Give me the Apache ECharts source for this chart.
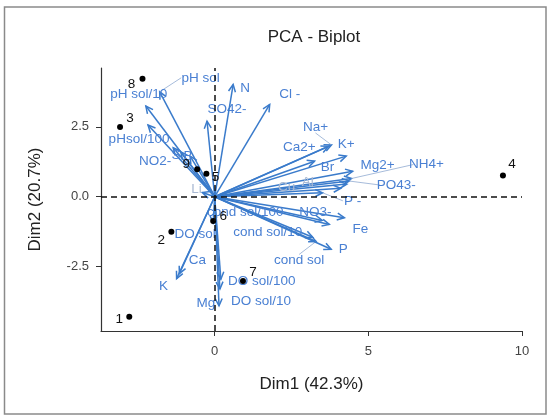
<!DOCTYPE html>
<html lang="en">
<head>
<meta charset="utf-8">
<title>PCA - Biplot</title>
<script src="https://cdn.jsdelivr.net/npm/echarts@6/dist/echarts.min.js"></script>
<style>
  html, body { margin: 0; padding: 0; background: #fff; }
  #chart { width: 550px; height: 417px; }
</style>
</head>
<body>
<div id="chart"></div>
<script type="text/javascript">
// variables (arrows)
var varNames = ['pH sol', 'pH sol/10', 'pHsol/100', 'NO2-', 'S', 'B', 'SO42-', 'N', 'Li', 'Cl -',
    'Na+', 'Ca2+', 'K+', 'Br', 'Mg2+', 'NH4+', 'PO43-', 'Al', 'Cu', 'P -',
    'Fe', 'NO3-', 'cond sol/100', 'cond sol/10', 'cond sol', 'P',
    'DO sol', 'Ca', 'K', 'DO sol/100', 'DO sol/10', 'Mg'];
var varDim1 = [-1.79, -2.24, -2.17, -1.35, -1.10, -0.80, -0.25, 0.60, -0.40, 1.79,
    3.80, 3.70, 4.28, 3.25, 4.49, 4.45, 4.38, 4.30, 4.10, 3.51,
    4.22, 3.73, 3.50, 3.19, 3.30, 3.79,
    -0.05, -1.15, -1.24, 0.20, 0.14, 0.17];
var varDim2 = [3.75, 3.24, 2.56, 1.75, 1.60, 1.45, 2.70, 4.01, 0.15, 3.30,
    1.85, 1.80, 1.45, 1.27, 0.91, 0.65, 0.56, 0.45, 0.30, 0.14,
    -0.75, -0.99, -0.85, -1.45, -1.60, -1.88,
    -0.95, -2.75, -2.93, -2.95, -3.90, -3.30];

// individuals (points)
var indNames = ['1', '2', '3', '4', '5', '6', '7', '8', '9'];
var indDim1 = [-2.78, -1.41, -3.08, 9.38, -0.27, -0.05, 0.92, -2.35, -0.57];
var indDim2 = [-4.29, -1.25, 2.49, 0.76, 0.82, -0.87, -3.01, 4.22, 0.98];

var xTicks = [0, 5, 10];
var yTicks = [-2.5, 0, 2.5];

// label placement (pixel offsets from arrow tip / point)
var varLabelOffset = {
    'pH sol': [41, -14], 'pH sol/10': [-7, -12], 'pHsol/100': [-9, 14], 'NO2-': [-18, 14],
    'S': [-5, 3], 'B': [-2, 0], 'SO42-': [20, -12], 'N': [12, 4], 'Li': [-6, -3], 'Cl -': [20, -10],
    'Na+': [-16, -18], 'Ca2+': [-29, 1], 'K+': [0, -12], 'Br': [13, 6], 'Mg2+': [25, -6],
    'NH4+': [75, -14], 'PO43-': [47, 4], 'Al': [-39, -2], 'Cu': [-54, -1], 'P -': [30, 8],
    'Fe': [16, 12], 'NO3-': [-14, -12], 'cond sol/100': [-77, -8], 'cond sol/10': [-45, -5],
    'cond sol': [-17, 19], 'P': [12, 0], 'DO sol': [-18, 11], 'Ca': [18, -13], 'K': [-13, 8],
    'DO sol/100': [41, 2], 'DO sol/10': [42, -5], 'Mg': [-14, 14]
};
var leaderLabels = ['pH sol', 'Na+', 'NH4+', 'PO43-', 'P -', 'cond sol'];
var faintLabels = ['Li', 'Al', 'Cu'];
var indLabelOffset = [[-10, 3], [-10, 9], [10, -9], [9, -11], [9, 4], [10, -5], [10, -9], [-11, 6], [-11, -5]];

var arrowColor = '#3a7bcb';
var labelColor = '#4a80d3';
var labelFont = '13.5px "Liberation Sans", Arial, sans-serif';

var arrowData = varNames.map(function (n, i) { return [varDim1[i], varDim2[i], i]; });
var indData = indNames.map(function (n, i) { return [indDim1[i], indDim2[i], i]; });

var chart = echarts.init(document.getElementById('chart'));

function renderArrow(params, api) {
    var i = api.value(2);
    var name = varNames[i];
    var o = api.coord([0, 0]);
    var t = api.coord([api.value(0), api.value(1)]);
    var ang = Math.atan2(t[1] - o[1], t[0] - o[0]);
    var hl = 8, ha = 0.45;
    var h1 = [t[0] - hl * Math.cos(ang - ha), t[1] - hl * Math.sin(ang - ha)];
    var h2 = [t[0] - hl * Math.cos(ang + ha), t[1] - hl * Math.sin(ang + ha)];
    var off = varLabelOffset[name] || [0, -10];
    var lx = t[0] + off[0], ly = t[1] + off[1];
    var children = [
        { type: 'line', shape: { x1: o[0], y1: o[1], x2: t[0], y2: t[1] },
          style: { stroke: arrowColor, lineWidth: 1.5 } },
        { type: 'polyline', shape: { points: [h1, t, h2] },
          style: { stroke: arrowColor, lineWidth: 1.5, fill: null } }
    ];
    if (leaderLabels.indexOf(name) >= 0) {
        var w = name.length * 6.5;
        var ex = off[0] > 0 ? lx - w / 2 : (Math.abs(off[0]) < 20 ? lx : lx + w / 2);
        var ey = Math.abs(off[0]) < 20 ? ly - 6 * Math.sign(off[1]) : ly;
        children.push({ type: 'line', shape: { x1: t[0], y1: t[1], x2: ex, y2: ey },
            style: { stroke: '#8fa9d0', lineWidth: 0.8 } });
    }
    children.push({ type: 'text', style: {
        text: name, x: lx, y: ly, align: 'center', verticalAlign: 'middle',
        fill: faintLabels.indexOf(name) >= 0 ? '#a9b9d3' : labelColor,
        font: labelFont } });
    return { type: 'group', children: children };
}

function renderPoint(params, api) {
    var i = api.value(2);
    var p = api.coord([api.value(0), api.value(1)]);
    var off = indLabelOffset[i];
    return { type: 'group', children: [
        { type: 'circle', shape: { cx: p[0], cy: p[1], r: 3 }, style: { fill: '#000' } },
        { type: 'text', style: { text: indNames[i], x: p[0] + off[0], y: p[1] + off[1],
            align: 'center', verticalAlign: 'middle', fill: '#111',
            font: labelFont } }
    ] };
}

var option = {
    animation: false,
    backgroundColor: '#fff',
    textStyle: { fontFamily: '"Liberation Sans", Arial, sans-serif' },
    graphic: [
        { type: 'rect', shape: { x: 4.5, y: 7, width: 541.5, height: 407 },
          style: { fill: null, stroke: '#8a8a8a', lineWidth: 1.5 } },
        { type: 'text', x: 314, y: 37, style: { text: 'PCA - Biplot', align: 'center',
          verticalAlign: 'middle', fill: '#222', font: '17px "Liberation Sans", Arial, sans-serif' } }
    ],
    grid: { left: 101, right: 28, top: 68, bottom: 86 },
    xAxis: {
        type: 'value', min: -3.7, max: 10,
        name: 'Dim1 (42.3%)', nameLocation: 'middle', nameGap: 45,
        nameTextStyle: { fontSize: 17, color: '#222' },
        axisLine: { onZero: false, lineStyle: { color: '#333', width: 1.2 } },
        axisTick: { customValues: xTicks, length: 5, lineStyle: { color: '#333' } },
        axisLabel: { customValues: xTicks, color: '#444', fontSize: 13, margin: 14 },
        splitLine: { show: false }
    },
    yAxis: {
        type: 'value', min: -4.8, max: 4.6,
        name: 'Dim2 (20.7%)', nameLocation: 'middle', nameGap: 57,
        nameTextStyle: { fontSize: 17, color: '#222' },
        axisLine: { onZero: false, lineStyle: { color: '#333', width: 1.2 } },
        axisTick: { customValues: yTicks, length: 5, lineStyle: { color: '#333' } },
        axisLabel: { customValues: yTicks, color: '#444', fontSize: 13, margin: 12,
            formatter: function (v) { return v.toFixed(1); } },
        splitLine: { show: false }
    },
    series: [
        {
            type: 'custom', name: 'variables', renderItem: renderArrow, data: arrowData,
            clip: false, z: 3,
            markLine: {
                silent: true, symbol: 'none', label: { show: false },
                lineStyle: { color: '#111', type: [6, 4], width: 1.5 },
                data: [{ xAxis: 0 }, { yAxis: 0 }]
            }
        },
        { type: 'custom', name: 'individuals', renderItem: renderPoint, data: indData, clip: false, z: 4 }
    ]
};
chart.setOption(option);
</script>
</body>
</html>
